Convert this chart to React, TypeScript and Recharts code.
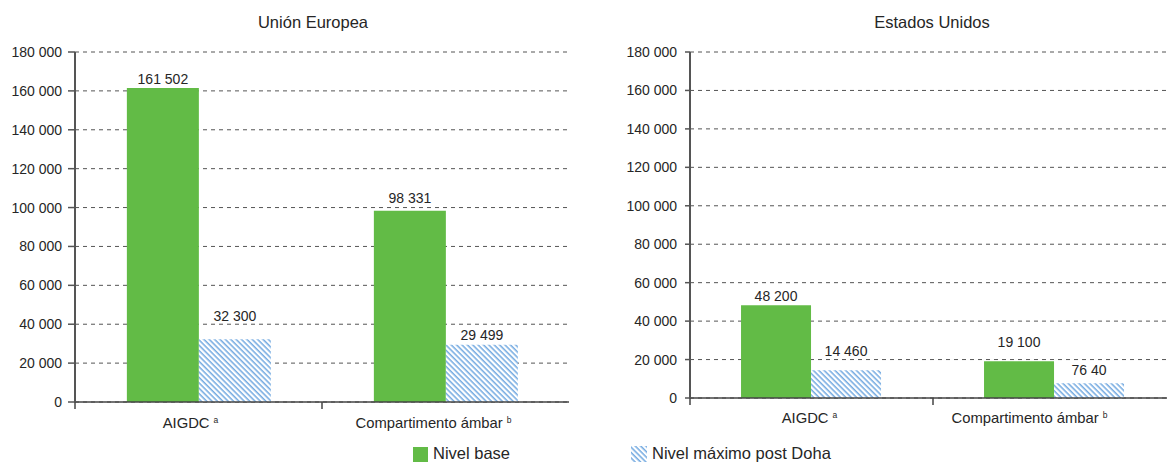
import React from 'react';
import { BarChart, Bar, XAxis, YAxis, CartesianGrid, LabelList } from 'recharts';

const categories = ['AIGDC', 'Compartimento ámbar'];
const categoryNotes = ['a', 'b'];
const seriesNames = ['Nivel base', 'Nivel máximo post Doha'];
const titles = ['Unión Europea', 'Estados Unidos'];

const euBase = [161502, 98331];
const euMax = [32300, 29499];
const usBase = [48200, 19100];
const usMax = [14460, 7640];

const euBaseLabels = ['161 502', '98 331'];
const euMaxLabels = ['32 300', '29 499'];
const usBaseLabels = ['48 200', '19 100'];
const usMaxLabels = ['14 460', '76 40'];

const yTicks = [0, 20000, 40000, 60000, 80000, 100000, 120000, 140000, 160000, 180000];
const yTickLabels = ['0', '20 000', '40 000', '60 000', '80 000', '100 000', '120 000', '140 000', '160 000', '180 000'];

const FONT = '"Liberation Sans", Arial, Helvetica, sans-serif';
const GREEN = '#62bb46';
const BLUE = '#5b9bdc';
const TEXT = '#262626';

type PanelProps = {
  id: string;
  base: number[];
  max: number[];
  baseLabels: string[];
  maxLabels: string[];
  baseLift: number[];
  maxLift: number[];
  catShift: number[];
  left: number;
  width: number;
  height: number;
  yWidth: number;
  marginRight: number;
  yTickSize: number;
  yTickMargin: number;
  catLabelDy: number;
};

function Panel(p: PanelProps) {
  const data = categories.map((c, i) => ({ cat: c, base: p.base[i], max: p.max[i] }));
  const band = (p.width - p.yWidth - p.marginRight) / categories.length;
  const patId = 'hatch-' + p.id;

  const CatTick = (props: any) => {
    const { x, y, index } = props;
    const bx = x - band / 2;
    return (
      <g>
        <line x1={bx} y1={y} x2={bx} y2={y + 7} stroke="#444" strokeWidth={1.5} />
        <text
          x={x + p.catShift[index]}
          y={y + p.catLabelDy}
          textAnchor="middle"
          dy="0.35em"
          fontSize={14.8}
          fill={TEXT}
          fontFamily={FONT}
        >
          {categories[index]}
          <tspan fontSize={8.5} dx={4} dy={-5}>
            {categoryNotes[index]}
          </tspan>
        </text>
      </g>
    );
  };

  const makeLabel = (labels: string[], lifts: number[]) => (props: any) => {
    const { x, y, width, index } = props;
    return (
      <text
        x={Number(x) + Number(width) / 2}
        y={Number(y) - lifts[index]}
        dy="0.35em"
        textAnchor="middle"
        fontSize={14}
        fill={TEXT}
        fontFamily={FONT}
      >
        {labels[index]}
      </text>
    );
  };

  return (
    <div style={{ position: 'absolute', left: p.left, top: 0 }}>
      <BarChart
        width={p.width}
        height={p.height}
        data={data}
        margin={{ top: 52, right: p.marginRight, left: 0, bottom: 0 }}
        barGap={0}
        barCategoryGap="21%"
      >
        <defs>
          <pattern
            id={patId}
            patternUnits="userSpaceOnUse"
            width={3.8}
            height={3.8}
            patternTransform="rotate(45)"
          >
            <rect x={0} y={0} width={3.8} height={3.8} fill="#ffffff" />
            <line x1={0} y1={0.8} x2={3.8} y2={0.8} stroke={BLUE} strokeWidth={1.3} />
          </pattern>
        </defs>
        <CartesianGrid vertical={false} stroke="#555" strokeDasharray="4 4" strokeWidth={1} />
        <XAxis
          dataKey="cat"
          interval={0}
          tickLine={false}
          tickSize={0}
          tickMargin={0}
          height={36}
          axisLine={{ stroke: '#444', strokeWidth: 1.5 }}
          tick={<CatTick />}
        />
        <YAxis
          width={p.yWidth}
          domain={[0, 180000]}
          ticks={yTicks}
          interval={0}
          tickSize={p.yTickSize}
          tickMargin={p.yTickMargin}
          axisLine={{ stroke: '#555', strokeWidth: 2 }}
          tickLine={{ stroke: '#555', strokeWidth: 1.5 }}
          tick={{ fontSize: 14, fill: TEXT, fontFamily: FONT }}
          tickFormatter={(v: number) => yTickLabels[yTicks.indexOf(v)]}
        />
        <Bar dataKey="base" name={seriesNames[0]} fill={GREEN} isAnimationActive={false}>
          <LabelList dataKey="base" content={makeLabel(p.baseLabels, p.baseLift)} />
        </Bar>
        <Bar dataKey="max" name={seriesNames[1]} fill={`url(#${patId})`} isAnimationActive={false}>
          <LabelList dataKey="max" content={makeLabel(p.maxLabels, p.maxLift)} />
        </Bar>
      </BarChart>
    </div>
  );
}

export default function App() {
  return (
    <div
      style={{
        position: 'absolute',
        left: 0,
        top: 0,
        width: 1167,
        height: 463,
        overflow: 'hidden',
        background: '#fff',
        fontFamily: FONT,
        color: TEXT,
      }}
    >
      <div style={{ position: 'absolute', left: 163, width: 300, top: 12, lineHeight: '20px', fontSize: 16.5, textAlign: 'center' }}>
        {titles[0]}
      </div>
      <div style={{ position: 'absolute', left: 782, width: 300, top: 12, lineHeight: '20px', fontSize: 16.5, textAlign: 'center' }}>
        {titles[1]}
      </div>
      <Panel
        id="eu"
        base={euBase}
        max={euMax}
        baseLabels={euBaseLabels}
        maxLabels={euMaxLabels}
        baseLift={[9, 13]}
        maxLift={[23, 10]}
        catShift={[-8, -12]}
        left={0}
        width={575}
        height={438}
        yWidth={75}
        marginRight={6}
        yTickSize={7}
        yTickMargin={6}
        catLabelDy={21}
      />
      <Panel
        id="us"
        base={usBase}
        max={usMax}
        baseLabels={usBaseLabels}
        maxLabels={usMaxLabels}
        baseLift={[9, 19]}
        maxLift={[19, 13]}
        catShift={[-2, -25]}
        left={600}
        width={576}
        height={434}
        yWidth={90}
        marginRight={0}
        yTickSize={5}
        yTickMargin={8}
        catLabelDy={20}
      />
      <div style={{ position: 'absolute', left: 413, top: 447, width: 15, height: 15, background: GREEN }} />
      <div style={{ position: 'absolute', left: 433, top: 444, lineHeight: '18px', fontSize: 16.5 }}>{seriesNames[0]}</div>
      <svg style={{ position: 'absolute', left: 631, top: 446 }} width={16} height={16}>
        <defs>
          <pattern id="hatch-legend" patternUnits="userSpaceOnUse" width={3.8} height={3.8} patternTransform="rotate(45)">
            <rect x={0} y={0} width={3.8} height={3.8} fill="#ffffff" />
            <line x1={0} y1={0.8} x2={3.8} y2={0.8} stroke={BLUE} strokeWidth={1.3} />
          </pattern>
        </defs>
        <rect x={0} y={0} width={16} height={16} fill="url(#hatch-legend)" />
      </svg>
      <div style={{ position: 'absolute', left: 652, top: 444, lineHeight: '18px', fontSize: 16.5 }}>{seriesNames[1]}</div>
    </div>
  );
}
